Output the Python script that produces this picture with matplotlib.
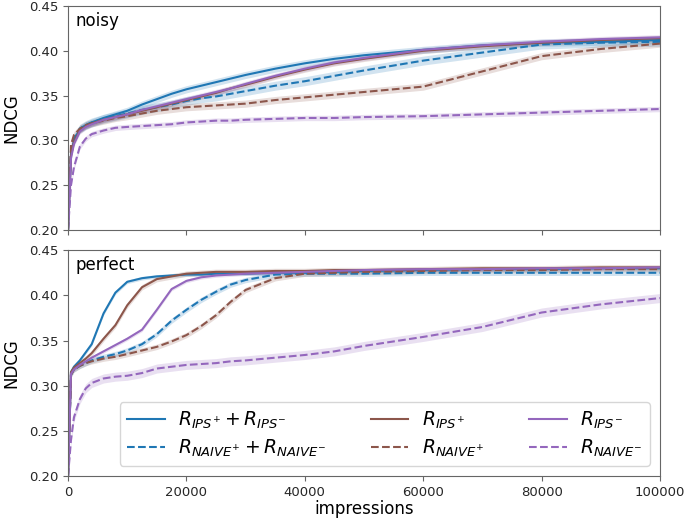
import numpy as np
import matplotlib
matplotlib.use("Agg")
import matplotlib.pyplot as plt

impressions = [0, 500, 1000, 2000, 3000, 4000, 6000, 8000, 10000, 12500, 15000, 17500,
               20000, 22500, 25000, 27500, 30000, 35000, 40000, 45000, 50000, 60000,
               70000, 80000, 90000, 100000]

# noisy panel
noisy_ips_both = [0.20, 0.285, 0.300, 0.313, 0.317, 0.320, 0.325, 0.329, 0.333, 0.340, 0.346, 0.352,
                  0.357, 0.361, 0.365, 0.369, 0.373, 0.380, 0.386, 0.391, 0.395, 0.401,
                  0.406, 0.409, 0.410, 0.412]
noisy_ips_pos = [0.20, 0.283, 0.298, 0.311, 0.316, 0.319, 0.323, 0.326, 0.329, 0.333, 0.337, 0.341,
                 0.345, 0.349, 0.353, 0.358, 0.362, 0.371, 0.379, 0.386, 0.391, 0.400,
                 0.405, 0.409, 0.412, 0.414]
noisy_ips_neg = [0.20, 0.280, 0.296, 0.310, 0.315, 0.318, 0.323, 0.326, 0.329, 0.334, 0.338, 0.342,
                 0.346, 0.350, 0.354, 0.358, 0.363, 0.372, 0.380, 0.387, 0.392, 0.401,
                 0.406, 0.410, 0.413, 0.415]
noisy_naive_both = [0.20, 0.288, 0.302, 0.313, 0.317, 0.320, 0.324, 0.327, 0.330, 0.334, 0.337, 0.340,
                    0.344, 0.347, 0.349, 0.352, 0.355, 0.361, 0.366, 0.372, 0.378, 0.389,
                    0.398, 0.407, 0.409, 0.410]
noisy_naive_pos = [0.20, 0.295, 0.306, 0.313, 0.317, 0.319, 0.322, 0.325, 0.327, 0.330, 0.333, 0.335,
                   0.337, 0.338, 0.339, 0.340, 0.341, 0.345, 0.348, 0.351, 0.354, 0.360,
                   0.377, 0.394, 0.402, 0.408]
noisy_naive_neg = [0.20, 0.250, 0.270, 0.293, 0.302, 0.307, 0.311, 0.314, 0.315, 0.316, 0.317, 0.318,
                   0.320, 0.321, 0.322, 0.322, 0.323, 0.324, 0.325, 0.325, 0.326, 0.327,
                   0.329, 0.331, 0.333, 0.335]

# perfect panel
perfect_ips_both = [0.20, 0.315, 0.321, 0.328, 0.337, 0.346, 0.380, 0.403, 0.415, 0.419, 0.421, 0.422,
                    0.423, 0.423, 0.424, 0.424, 0.424, 0.425, 0.425, 0.426, 0.427, 0.428,
                    0.429, 0.429, 0.430, 0.430]
perfect_ips_pos = [0.20, 0.315, 0.320, 0.325, 0.330, 0.336, 0.352, 0.367, 0.389, 0.409, 0.418, 0.421,
                   0.424, 0.425, 0.426, 0.426, 0.426, 0.427, 0.427, 0.428, 0.428, 0.429,
                   0.430, 0.430, 0.431, 0.431]
perfect_ips_neg = [0.20, 0.313, 0.318, 0.323, 0.327, 0.331, 0.338, 0.345, 0.352, 0.362, 0.384, 0.407,
                   0.416, 0.420, 0.422, 0.423, 0.424, 0.425, 0.426, 0.427, 0.428, 0.429,
                   0.429, 0.430, 0.430, 0.431]
perfect_naive_both = [0.20, 0.312, 0.318, 0.322, 0.325, 0.328, 0.332, 0.335, 0.339, 0.346, 0.357, 0.372,
                      0.384, 0.395, 0.404, 0.412, 0.417, 0.423, 0.424, 0.424, 0.424, 0.425,
                      0.425, 0.425, 0.425, 0.425]
perfect_naive_pos = [0.20, 0.312, 0.318, 0.322, 0.325, 0.327, 0.330, 0.332, 0.335, 0.339, 0.343, 0.349,
                     0.356, 0.366, 0.378, 0.393, 0.406, 0.419, 0.424, 0.425, 0.426, 0.427,
                     0.428, 0.428, 0.429, 0.429]
perfect_naive_neg = [0.20, 0.240, 0.265, 0.285, 0.297, 0.303, 0.308, 0.310, 0.311, 0.314, 0.319, 0.321,
                     0.323, 0.324, 0.325, 0.327, 0.328, 0.331, 0.334, 0.338, 0.344, 0.354,
                     0.365, 0.381, 0.390, 0.397]

labels = [r'$R_{IPS^{+}} + R_{IPS^{-}}$', r'$R_{NAIVE^{+}} + R_{NAIVE^{-}}$',
          r'$R_{IPS^{+}}$', r'$R_{NAIVE^{+}}$',
          r'$R_{IPS^{-}}$', r'$R_{NAIVE^{-}}$']
colors = ['tab:blue', 'tab:blue', 'tab:brown', 'tab:brown', 'tab:purple', 'tab:purple']
styles = ['-', '--', '-', '--', '-', '--']

noisy_band = [0.004, 0.005, 0.003, 0.004, 0.003, 0.003]
perfect_band = [0.002, 0.003, 0.003, 0.003, 0.002, 0.005]

noisy_series = [noisy_ips_both, noisy_naive_both, noisy_ips_pos, noisy_naive_pos, noisy_ips_neg, noisy_naive_neg]
perfect_series = [perfect_ips_both, perfect_naive_both, perfect_ips_pos, perfect_naive_pos, perfect_ips_neg, perfect_naive_neg]

fig = plt.figure(figsize=(6.85, 5.18), dpi=100)
ax1 = fig.add_axes([0.0993, 0.556, 0.8642, 0.4325])
ax2 = fig.add_axes([0.0993, 0.081, 0.8642, 0.436], sharex=ax1)

x = np.array(impressions)
handles = []
for ax, series, bands, title in [(ax1, noisy_series, noisy_band, 'noisy'),
                                 (ax2, perfect_series, perfect_band, 'perfect')]:
    for vals, c, ls, lab, b in zip(series, colors, styles, labels, bands):
        v = np.array(vals)
        line, = ax.plot(x, v, color=c, ls=ls, lw=1.5, label=lab)
        ax.fill_between(x, v - b, v + b, color=c, alpha=0.2, lw=0)
        if ax is ax2:
            handles.append(line)
    ax.set_ylim(0.20, 0.45)
    ax.set_xlim(0, 100000)
    ax.set_yticks([0.20, 0.25, 0.30, 0.35, 0.40, 0.45])
    ax.set_ylabel('NDCG', fontsize=12, labelpad=6)
    ax.text(0.012, 0.975, title, transform=ax.transAxes, fontsize=12, va='top', ha='left')
    for s in ax.spines.values():
        s.set_color('0.4')
    ax.tick_params(labelsize=9.5, color='0.4', labelcolor='0.15')

ax1.tick_params(labelbottom=False)
ax2.set_xticks([0, 20000, 40000, 60000, 80000, 100000])
ax2.set_xlabel('impressions', fontsize=12, labelpad=1)

ax2.legend(handles=handles, ncol=3, loc='lower right', bbox_to_anchor=(0.983, 0.044),
           borderaxespad=0, fontsize=13.5, columnspacing=2.4, handlelength=2.0,
           handletextpad=0.7, labelspacing=0.35, borderpad=0.4,
           frameon=True, edgecolor='0.8')

fig.savefig('out.png', dpi=100)
